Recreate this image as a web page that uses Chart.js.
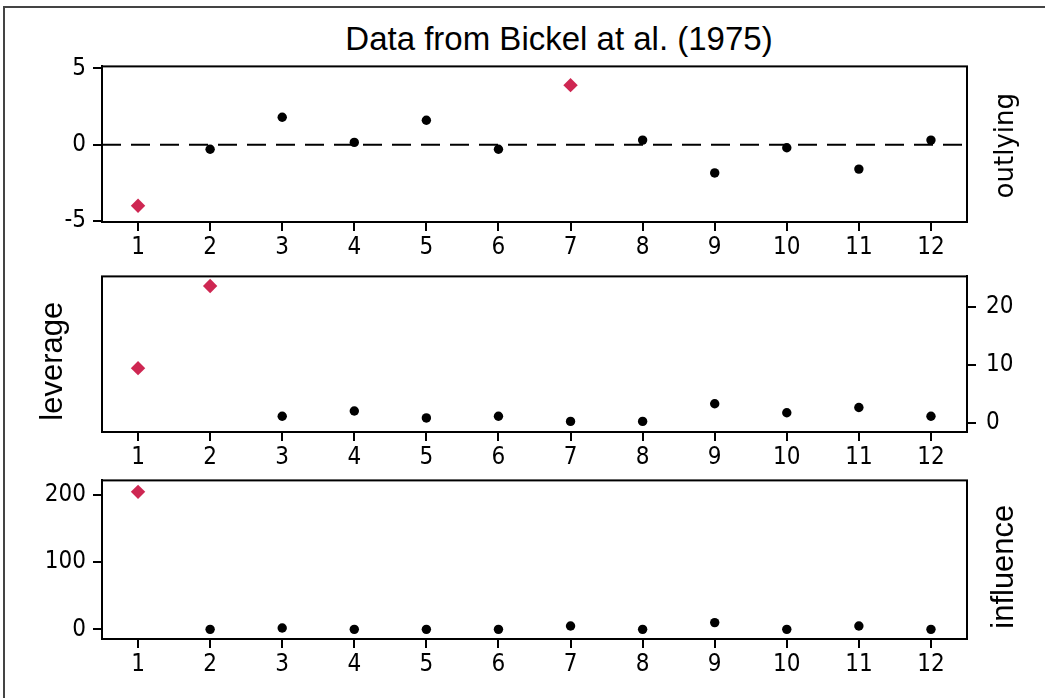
<!DOCTYPE html>
<html>
<head>
<meta charset="utf-8">
<title>Data from Bickel at al. (1975)</title>
<script src="https://cdn.jsdelivr.net/npm/chart.js@4.4.1/dist/chart.umd.min.js"></script>
<style>
  html, body { margin: 0; padding: 0; background: #fff; }
  body { width: 1045px; height: 698px; position: relative; overflow: hidden; }
  .frame {
    position: absolute; left: 3px; top: 6px; width: 1100px; height: 800px;
    border-left: 2px solid #444; border-top: 2px solid #444;
  }
  .title {
    position: absolute; left: 0; top: 22px; width: 1118px; text-align: center;
    font: 33px/33px 'Liberation Sans', Arial, sans-serif; color: #000;
  }
  canvas { position: absolute; left: 0; }
</style>
</head>
<body>
<div class="frame"></div>
<div class="title">Data from Bickel at al. (1975)</div>
<canvas id="outlyingChart"></canvas>
<canvas id="leverageChart"></canvas>
<canvas id="influenceChart"></canvas>

<script>
// case numbers along x
const cases = [1, 2, 3, 4, 5, 6, 7, 8, 9, 10, 11, 12];

// values
const outlying = [-4.0, -0.3, 1.8, 0.15, 1.6, -0.3, 3.9, 0.3, -1.85, -0.2, -1.6, 0.3];
const leverage = [9.4, 23.6, 1.1, 2.0, 0.8, 1.1, 0.2, 0.2, 3.25, 1.7, 2.6, 1.1];
const influence = [204, 0, 2, 0, 0, 0, 5, 0, 10, 0, 5, 0];

// cases drawn as red diamonds
const flaggedOutlying = [1, 7];
const flaggedLeverage = [1, 2];
const flaggedInfluence = [1];

// tick labels
const xTicks = cases;
const outlyingTicks = [-5, 0, 5];
const leverageTicks = [0, 10, 20];
const influenceTicks = [0, 100, 200];

const RED = 'rgb(206, 39, 82)';
const tickFont = { family: "'DejaVu Sans Condensed', 'DejaVu Sans', sans-serif", size: 24 };

// box round the plot region + optional dashed zero line
const plotFrame = {
  id: 'plotFrame',
  beforeDatasetsDraw(chart, args, opts) {
    const { ctx, chartArea: a } = chart;
    ctx.save();
    ctx.strokeStyle = '#000';
    ctx.lineWidth = 2;
    ctx.strokeRect(a.left, a.top, a.right - a.left, a.bottom - a.top);
    if (opts.zeroLine) {
      const y = chart.scales.y.getPixelForValue(0);
      ctx.setLineDash([19, 10]);
      ctx.beginPath();
      ctx.moveTo(a.left, y);
      ctx.lineTo(a.right, y);
      ctx.stroke();
    }
    ctx.restore();
  }
};

// rotated panel label (reads bottom to top)
const sideLabel = {
  id: 'sideLabel',
  afterDraw(chart, args, opts) {
    if (!opts.text) return;
    const { ctx, chartArea: a } = chart;
    ctx.save();
    ctx.translate(opts.x, (a.top + a.bottom) / 2 + (opts.dy || 0));
    ctx.rotate(-Math.PI / 2);
    ctx.font = opts.font;
    ctx.fillStyle = '#000';
    ctx.textAlign = 'center';
    ctx.textBaseline = 'alphabetic';
    ctx.fillText(opts.text, 0, 0);
    ctx.restore();
  }
};

function makePanel(id, values, flagged, yTicks, yMin, yMax, plotTop, plotHeight, yPos, label) {
  const canvas = document.getElementById(id);
  canvas.width = 1045;
  canvas.height = 20 + plotHeight + 45;
  canvas.style.top = (plotTop - 20) + 'px';

  const isFlag = ctx => flagged.includes(cases[ctx.dataIndex]);

  return new Chart(canvas.getContext('2d'), {
    type: 'scatter',
    data: {
      datasets: [{
        data: cases.map((c, i) => ({ x: c, y: values[i] })),
        pointStyle: ctx => isFlag(ctx) ? 'rectRot' : 'circle',
        pointRadius: ctx => isFlag(ctx) ? 7.2 : 4.7,
        pointBackgroundColor: ctx => isFlag(ctx) ? RED : '#000',
        pointBorderWidth: 0,
        pointHoverRadius: ctx => isFlag(ctx) ? 7.2 : 4.7
      }]
    },
    options: {
      responsive: false,
      animation: false,
      events: [],
      layout: {
        padding: yPos === 'left'
          ? { left: 0, right: 78, top: 20, bottom: 0 }
          : { left: 102, right: 0, top: 20, bottom: 0 }
      },
      plugins: {
        legend: { display: false },
        tooltip: { enabled: false },
        plotFrame: { zeroLine: id === 'outlyingChart' },
        sideLabel: label
      },
      scales: {
        x: {
          type: 'linear',
          min: 0.5,
          max: 12.5,
          afterBuildTicks: s => { s.ticks = xTicks.map(v => ({ value: v })); },
          afterFit: s => { s.height = 45; },
          grid: { drawOnChartArea: false, tickLength: 9, color: '#000', lineWidth: 2 },
          border: { color: '#000', width: 2 },
          ticks: { color: '#000', font: tickFont, padding: 2, maxRotation: 0, autoSkip: false }
        },
        y: {
          position: yPos,
          min: yMin,
          max: yMax,
          afterBuildTicks: s => { s.ticks = yTicks.map(v => ({ value: v })); },
          afterFit: s => { s.width = yPos === 'left' ? 102 : 78; },
          grid: { drawOnChartArea: false, tickLength: 9, color: '#000', lineWidth: 2 },
          border: { color: '#000', width: 2 },
          ticks: { color: '#000', font: tickFont, padding: yPos === 'left' ? 7 : 10, autoSkip: false }
        }
      }
    },
    plugins: [plotFrame, sideLabel]
  });
}

makePanel('outlyingChart', outlying, flaggedOutlying, outlyingTicks, -5.065, 5.13, 65, 157, 'left',
  { text: 'outlying', x: 1013, dy: 1.5, font: "26px 'DejaVu Sans', sans-serif" });

makePanel('leverageChart', leverage, flaggedLeverage, leverageTicks, -1.63, 25.26, 272, 160, 'right',
  { text: 'leverage', x: 62, dy: 7, font: "31px 'Liberation Sans', Arial, sans-serif" });

makePanel('influenceChart', influence, flaggedInfluence, influenceTicks, -14.3, 221, 479, 160, 'left',
  { text: 'influence', x: 1013, dy: 7, font: "31px 'Liberation Sans', Arial, sans-serif" });
</script>
</body>
</html>
